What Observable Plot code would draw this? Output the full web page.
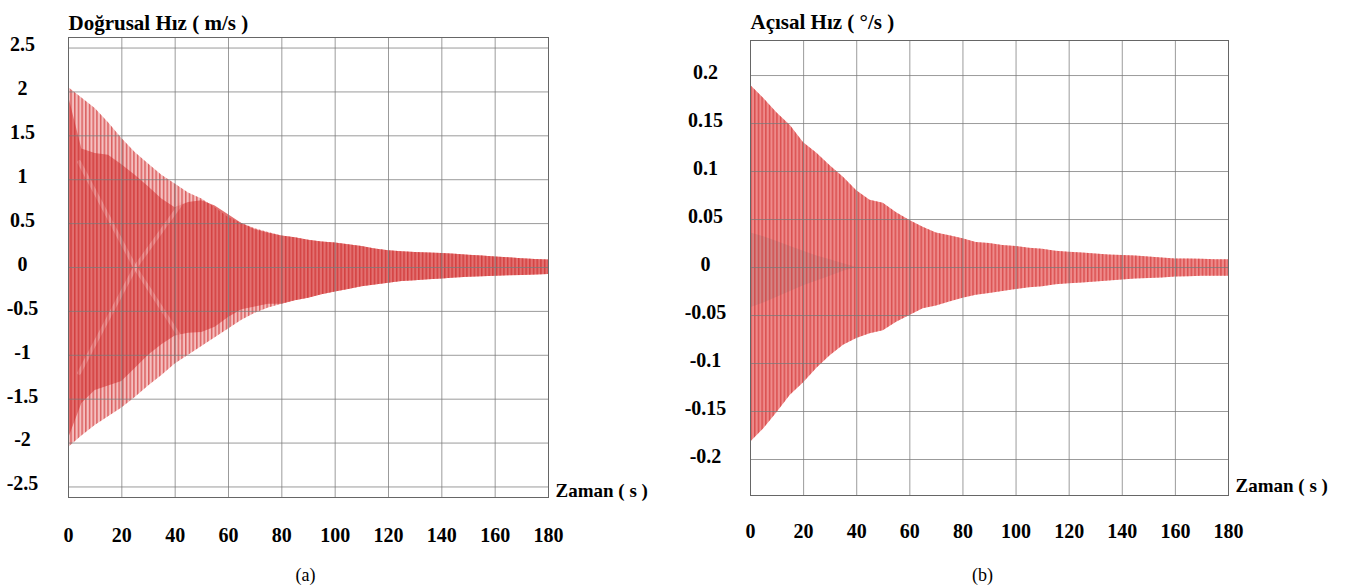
<!DOCTYPE html>
<html><head><meta charset="utf-8">
<script src="https://cdn.jsdelivr.net/npm/d3@7"></script>
<script src="https://cdn.jsdelivr.net/npm/@observablehq/plot@0.6"></script>
<style>
html,body{margin:0;padding:0;background:#fff;}
#wrap{position:relative;width:1355px;height:587px;overflow:hidden;background:#fff;}
#a,#b{position:absolute;top:0;}
#a{left:0;} #b{left:680px;}
</style></head><body><div id="wrap"><div id="a"></div><div id="b"></div></div>
<script>
// time samples (s)
const time = [0,5,10,15,20,25,30,35,40,45,50,55,60,65,70,75,80,85,90,95,100,105,110,115,120,125,130,135,140,145,150,155,160,165,170,175,180];
const xTicks = [0,20,40,60,80,100,120,140,160,180];

// (a) Doğrusal Hız — outer envelope and dark core
const linUpper = [2.05,1.93,1.81,1.65,1.47,1.31,1.18,1.05,0.95,0.85,0.78,0.68,0.57,0.50,0.44,0.40,0.36,0.34,0.31,0.29,0.28,0.26,0.24,0.21,0.19,0.18,0.17,0.165,0.16,0.15,0.14,0.13,0.12,0.11,0.10,0.09,0.085];
const linLower = [-2.05,-1.92,-1.80,-1.70,-1.60,-1.48,-1.35,-1.23,-1.10,-1.00,-0.90,-0.80,-0.70,-0.60,-0.52,-0.46,-0.42,-0.38,-0.35,-0.31,-0.28,-0.25,-0.22,-0.20,-0.18,-0.16,-0.15,-0.14,-0.13,-0.12,-0.11,-0.105,-0.10,-0.095,-0.09,-0.085,-0.08];
const linCoreUpper = [1.95,1.35,1.30,1.28,1.17,1.05,0.92,0.78,0.68,0.74,0.76,0.70,0.60,0.50,0.43,0.39,0.36,0.34,0.31,0.29,0.28,0.26,0.24,0.21,0.19,0.18,0.17,0.165,0.16,0.15,0.14,0.13,0.12,0.11,0.10,0.09,0.085];
const linCoreLower = [-1.95,-1.55,-1.40,-1.35,-1.30,-1.15,-1.00,-0.88,-0.78,-0.75,-0.74,-0.68,-0.57,-0.48,-0.45,-0.42,-0.42,-0.38,-0.35,-0.31,-0.28,-0.25,-0.22,-0.20,-0.18,-0.16,-0.15,-0.14,-0.13,-0.12,-0.11,-0.105,-0.10,-0.095,-0.09,-0.085,-0.08];
const beatT = [4,25,42];
const beatA = [1.2,0,-0.8];
const beatB = [-1.2,0,0.72];
const linTicks = [-2.5,-2,-1.5,-1,-0.5,0,0.5,1,1.5,2,2.5];

// (b) Açısal Hız
const angUpper = [0.19,0.176,0.161,0.148,0.13,0.119,0.106,0.094,0.08,0.07,0.067,0.057,0.049,0.042,0.036,0.033,0.03,0.026,0.025,0.023,0.022,0.02,0.019,0.017,0.016,0.015,0.014,0.013,0.0125,0.012,0.011,0.01,0.009,0.0088,0.0085,0.008,0.008];
const angLower = [-0.182,-0.168,-0.151,-0.133,-0.12,-0.105,-0.092,-0.081,-0.074,-0.069,-0.066,-0.057,-0.05,-0.043,-0.04,-0.036,-0.032,-0.029,-0.027,-0.025,-0.023,-0.021,-0.02,-0.018,-0.017,-0.016,-0.015,-0.014,-0.013,-0.012,-0.0115,-0.011,-0.01,-0.0095,-0.0092,-0.009,-0.009];
const wedgeT = [0,5,10,15,20,25,30,35,40];
const wedgeUpper = [0.036,0.032,0.027,0.022,0.017,0.012,0.008,0.004,0.0];
const wedgeLower = [-0.042,-0.037,-0.031,-0.025,-0.019,-0.014,-0.009,-0.004,0.0];
const angTicks = [-0.2,-0.15,-0.1,-0.05,0,0.05,0.1,0.15,0.2];

const linRows = time.map((t,i)=>({t, u:linUpper[i], l:linLower[i], cu:linCoreUpper[i], cl:linCoreLower[i]}));
const beatRowsA = beatT.map((t,i)=>({t, v:beatA[i]}));
const beatRowsB = beatT.map((t,i)=>({t, v:beatB[i]}));
const angRows = time.map((t,i)=>({t, u:angUpper[i], l:angLower[i]}));
const wedgeRows = wedgeT.map((t,i)=>({t, u:wedgeUpper[i], l:wedgeLower[i]}));

const FONT = "'Liberation Serif','Times New Roman',serif";
const PLACE = "#010203";

function addStripes(svg, id, color, period, w) {
  const ns = "http://www.w3.org/2000/svg";
  const defs = document.createElementNS(ns,"defs");
  const pat = document.createElementNS(ns,"pattern");
  pat.setAttribute("id", id);
  pat.setAttribute("patternUnits","userSpaceOnUse");
  pat.setAttribute("width", period);
  pat.setAttribute("height", 20);
  const r = document.createElementNS(ns,"rect");
  r.setAttribute("x",0); r.setAttribute("y",0);
  r.setAttribute("width", w); r.setAttribute("height", 20);
  r.setAttribute("fill", color);
  pat.appendChild(r); defs.appendChild(pat);
  svg.insertBefore(defs, svg.firstChild);
  svg.querySelectorAll(`[fill="${PLACE}"]`).forEach(el => el.setAttribute("fill", `url(#${id})`));
}

const gridStyle = {stroke:"#7a7a7a", strokeOpacity:0.75, strokeWidth:1};

const plotA = Plot.plot({
  width: 680, height: 587,
  marginLeft: 68, marginRight: 132, marginTop: 37, marginBottom: 90,
  style: {fontFamily: FONT, fontWeight: "bold", fontSize: "20px", background: "transparent"},
  x: {domain: [0,180]},
  y: {domain: [-2.62, 2.62]},
  marks: [
    Plot.areaY(linRows, {x:"t", y1:"l", y2:"u", fill:"#f5bfbf"}),
    Plot.areaY(linRows, {x:"t", y1:"cl", y2:"cu", fill:"#e37070"}),
    Plot.line(beatRowsA, {x:"t", y:"v", stroke:"#f0b0b0", strokeWidth:4, strokeOpacity:0.6}),
    Plot.line(beatRowsB, {x:"t", y:"v", stroke:"#f0b0b0", strokeWidth:4, strokeOpacity:0.6}),
    Plot.areaY(linRows, {x:"t", y1:"l", y2:"u", fill:PLACE}),
    Plot.gridX(xTicks, gridStyle),
    Plot.gridY(linTicks, gridStyle),
    Plot.frame({stroke:"#666"}),
    Plot.axisY(linTicks, {label:null, tickSize:0, tickPadding:46, textAnchor:"middle", dy:-3, tickFormat:d=>String(d), fontSize:20}),
    Plot.axisX(xTicks, {label:null, tickSize:0, tickPadding:30, tickFormat:d=>String(d), fontSize:20}),
    Plot.text(["Doğrusal Hız ( m/s )"], {frameAnchor:"top-left", textAnchor:"start", lineAnchor:"bottom", dy:-8, fontSize:21}),
    Plot.text(["Zaman ( s )"], {frameAnchor:"bottom-right", textAnchor:"start", lineAnchor:"bottom", dx:7, dy:-1, fontSize:19}),
    Plot.text(["(a)"], {frameAnchor:"bottom", textAnchor:"middle", lineAnchor:"bottom", dx:-3, dy:83, fontSize:18, fontWeight:"normal"})
  ]
});
addStripes(plotA, "stripesA", "rgba(200,30,30,0.6)", 3.7, 1.5);
document.getElementById("a").appendChild(plotA);

const plotB = Plot.plot({
  width: 675, height: 587,
  marginLeft: 70, marginRight: 127, marginTop: 40, marginBottom: 92,
  style: {fontFamily: FONT, fontWeight: "bold", fontSize: "20px", background: "transparent"},
  x: {domain: [0,180]},
  y: {domain: [-0.2375, 0.2365]},
  marks: [
    Plot.areaY(angRows, {x:"t", y1:"l", y2:"u", fill:"#ee8a8a"}),
    Plot.areaY(wedgeRows, {x:"t", y1:"l", y2:"u", fill:"#d48585"}),
    Plot.areaY(angRows, {x:"t", y1:"l", y2:"u", fill:PLACE}),
    Plot.gridX(xTicks, gridStyle),
    Plot.gridY(angTicks, gridStyle),
    Plot.frame({stroke:"#666"}),
    Plot.axisY(angTicks, {label:null, tickSize:0, tickPadding:45, textAnchor:"middle", dy:-3, tickFormat:d=>String(d), fontSize:20}),
    Plot.axisX(xTicks, {label:null, tickSize:0, tickPadding:28, tickFormat:d=>String(d), fontSize:20}),
    Plot.text(["Açısal Hız ( °/s )"], {frameAnchor:"top-left", textAnchor:"start", lineAnchor:"bottom", dy:-12, fontSize:21}),
    Plot.text(["Zaman ( s )"], {frameAnchor:"bottom-right", textAnchor:"start", lineAnchor:"bottom", dx:7, dy:-4, fontSize:19}),
    Plot.text(["(b)"], {frameAnchor:"bottom", textAnchor:"middle", lineAnchor:"bottom", dx:-7, dy:85, fontSize:18, fontWeight:"normal"})
  ]
});
addStripes(plotB, "stripesB", "rgba(205,40,40,0.6)", 3.7, 1.5);
document.getElementById("b").appendChild(plotB);
</script>
</body></html>
